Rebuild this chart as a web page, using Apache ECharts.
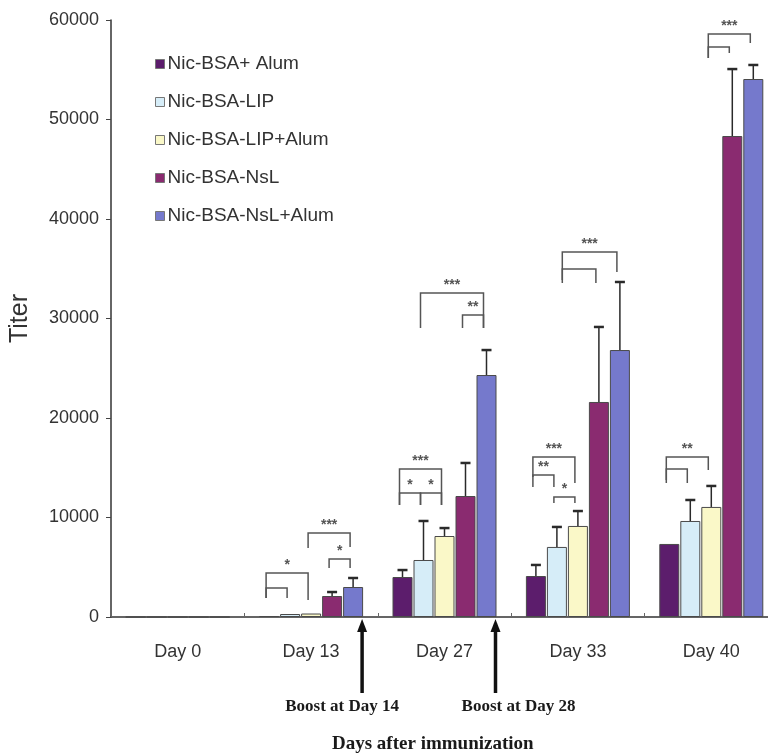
<!DOCTYPE html>
<html>
<head>
<meta charset="utf-8">
<script src="https://cdn.jsdelivr.net/npm/echarts@6/dist/echarts.min.js"></script>
<style>html,body{margin:0;padding:0;background:#fff;overflow:hidden;}#chart{width:778px;height:756px;}</style>
</head>
<body>
<div id="chart"></div>
<script>
// ---- data ----
const categories = ['Day 0', 'Day 13', 'Day 27', 'Day 33', 'Day 40'];
const seriesNames = ['Nic-BSA+ Alum', 'Nic-BSA-LIP', 'Nic-BSA-LIP+Alum', 'Nic-BSA-NsL', 'Nic-BSA-NsL+Alum'];
const nicBsaAlum      = [0, 100, 4020, 4120, 7340];
const nicBsaLip       = [0, 300, 5730, 7040, 9650];
const nicBsaLipAlum   = [0, 350, 8140, 9150, 11060];
const nicBsaNsl       = [0, 2110, 12160, 21610, 48340];
const nicBsaNslAlum   = [0, 3015, 24320, 26830, 54070];
// upper end of each error bar (null = none visible)
const nicBsaAlumUpper    = [null, null, 4720, 5230, null];
const nicBsaLipUpper     = [null, null, 9650, 9050, 11760];
const nicBsaLipAlumUpper = [null, null, 8940, 10650, 13170];
const nicBsaNslUpper     = [null, 2510, 15480, 29150, 55070];
const nicBsaNslAlumUpper = [null, 3920, 26830, 33670, 55480];
const yTicks = [0, 10000, 20000, 30000, 40000, 50000, 60000];
// significance brackets: [category, fromBar, toBar, topValue, leftLegEnd, rightLegEnd, label]
const brackets = [
  [1, 0, 2, 4420, 1900, 1710, '*'],
  [1, 0, 1, 2910, 1900, 1900, ''],
  [1, 2, 4, 8440, 6930, 7030, '***'],
  [1, 3, 4, 5830, 4920, 4920, '*'],
  [2, 0, 2, 14870, 11250, 11250, '***'],
  [2, 0, 1, 12460, 11250, 11250, '*'],
  [2, 1, 2, 12460, 11250, 11250, '*'],
  [2, 1, 4, 32560, 29040, 29040, '***'],
  [2, 3, 4, 30350, 29040, 29040, '**'],
  [3, 1.4, 4, 36680, 33870, 34670, '***'],
  [3, 1.4, 3, 34970, 33570, 33570, ''],
  [3, 0, 2, 16080, 14070, 13470, '***'],
  [3, 0, 1, 14270, 13070, 13070, '**'],
  [3, 1, 2, 12060, 11460, 11460, '*'],
  [4, 2, 4, 58590, 56180, 57690, '***'],
  [4, 2, 3, 57290, 56180, 56680, ''],
  [4, 0, 2, 16080, 13770, 14770, '**'],
  [4, 0, 1, 14870, 13470, 13470, '']
];
const boostCategories = [1, 2];
const boostLabels = ['Boost at Day 14', 'Boost at Day 28'];
const xAxisTitle = 'Days after immunization';
const yAxisTitle = 'Titer';

// ---- build ----
const values = [nicBsaAlum, nicBsaLip, nicBsaLipAlum, nicBsaNsl, nicBsaNslAlum];
const uppers = [nicBsaAlumUpper, nicBsaLipUpper, nicBsaLipAlumUpper, nicBsaNslUpper, nicBsaNslAlumUpper];
const colors = ['#5c1d6c', '#d6edf8', '#faf8c8', '#8a2b70', '#7579cc'];
const BAR_W = 20, BAR_STEP = 21;

function barX(api, cat, bar) {
  return api.coord([cat, 0])[0] + (bar - 2) * BAR_STEP;
}

const errData = [];
values.forEach((arr, s) => arr.forEach((v, c) => {
  if (uppers[s][c] != null) errData.push([c, s, v, uppers[s][c]]);
}));

const barSeries = seriesNames.map((n, i) => ({
  name: n,
  type: 'bar',
  data: values[i],
  barWidth: BAR_W,
  barGap: '5%',
  itemStyle: { color: colors[i], borderColor: '#4a4a4a', borderWidth: 1 },
  emphasis: { disabled: true },
  z: 2
}));

const errorSeries = {
  type: 'custom',
  data: errData,
  encode: { x: 0, y: 3 },
  clip: false,
  z: 3,
  silent: true,
  renderItem: function (params, api) {
    const c = api.value(0), s = api.value(1), v = api.value(2), u = api.value(3);
    const x = barX(api, c, s);
    const y1 = api.coord([c, v])[1];
    const y2 = api.coord([c, u])[1];
    return {
      type: 'group',
      children: [
        { type: 'line', shape: { x1: x, y1: y1, x2: x, y2: y2 }, style: { stroke: '#2a2a2a', lineWidth: 1.5 } },
        { type: 'line', shape: { x1: x - 5, y1: y2, x2: x + 5, y2: y2 }, style: { stroke: '#2a2a2a', lineWidth: 2.5 } }
      ]
    };
  }
};

const bracketSeries = {
  type: 'custom',
  data: brackets.map(b => [b[0], b[3]]),
  encode: { x: 0, y: 1 },
  clip: false,
  z: 3,
  silent: true,
  renderItem: function (params, api) {
    const b = brackets[params.dataIndex];
    const xl = barX(api, b[0], b[1]) - 3;
    const xr = barX(api, b[0], b[2]) - 3;
    const yt = api.coord([b[0], b[3]])[1];
    const yl = api.coord([b[0], b[4]])[1];
    const yr = api.coord([b[0], b[5]])[1];
    const children = [{
      type: 'polyline',
      shape: { points: [[xl, yl], [xl, yt], [xr, yt], [xr, yr]] },
      style: { stroke: '#555', lineWidth: 1.5, fill: null }
    }];
    if (b[6]) {
      children.push({
        type: 'text',
        style: {
          text: b[6], x: (xl + xr) / 2, y: yt - 1,
          align: 'center', verticalAlign: 'bottom',
          font: 'bold 14px "Liberation Sans"', fill: '#555'
        }
      });
    }
    return { type: 'group', children: children };
  }
};

const boostSeries = {
  type: 'custom',
  data: boostCategories.map(c => [c, 0]),
  encode: { x: 0, y: 1 },
  clip: false,
  z: 4,
  silent: true,
  renderItem: function (params, api) {
    const c = boostCategories[params.dataIndex];
    const x = barX(api, c, 4) + BAR_W / 2 - 1;
    const y0 = api.coord([c, 0])[1];
    const textDx = params.dataIndex === 0 ? -20 : 23;
    return {
      type: 'group',
      children: [
        { type: 'line', shape: { x1: x, y1: y0 + 76, x2: x, y2: y0 + 12 }, style: { stroke: '#111', lineWidth: 3.5 } },
        { type: 'polygon', shape: { points: [[x - 5, y0 + 15], [x + 5, y0 + 15], [x, y0 + 2]] }, style: { fill: '#111' } },
        {
          type: 'text',
          style: {
            text: boostLabels[params.dataIndex], x: x + textDx, y: y0 + 90,
            align: 'center', verticalAlign: 'middle',
            font: 'bold 17px "Liberation Serif"', fill: '#1a1a1a'
          }
        }
      ]
    };
  }
};

const chart = echarts.init(document.getElementById('chart'), null, { renderer: 'canvas' });
chart.setOption({
  backgroundColor: '#ffffff',
  animation: false,
  color: colors,
  grid: { left: 111, right: 0, top: 20, bottom: 139, containLabel: false },
  legend: {
    data: seriesNames,
    orient: 'vertical',
    left: 150,
    top: 49,
    itemWidth: 9,
    itemHeight: 9,
    itemGap: 18,
    icon: 'rect',
    selectedMode: false,
    itemStyle: { borderColor: '#777', borderWidth: 1 },
    textStyle: { fontFamily: 'Liberation Sans', fontSize: 19, color: '#333', lineHeight: 20, padding: [0, 0, 0, -2] }
  },
  graphic: [{
    type: 'text',
    left: 332, top: 735,
    style: { text: xAxisTitle, font: 'bold 19px "Liberation Serif"', fill: '#1a1a1a' }
  }],
  xAxis: {
    type: 'category',
    data: categories,
    axisLine: { lineStyle: { color: '#333', width: 1.5 } },
    axisTick: { show: true, inside: true, length: 4, lineStyle: { color: '#666' } },
    axisLabel: { fontFamily: 'Liberation Sans', fontSize: 18, color: '#333', margin: 26 },
    splitLine: { show: false }
  },
  yAxis: {
    type: 'value',
    min: 0,
    max: 60000,
    interval: 10000,
    name: yAxisTitle,
    nameLocation: 'middle',
    nameRotate: 90,
    nameGap: 78,
    nameTextStyle: { fontFamily: 'Liberation Sans', fontSize: 25, color: '#333' },
    axisLine: { show: true, lineStyle: { color: '#333', width: 1.5 } },
    axisTick: { show: true, length: 5, lineStyle: { color: '#444' } },
    axisLabel: {
      fontFamily: 'Liberation Sans', fontSize: 18, color: '#333', margin: 12,
      formatter: v => (yTicks.indexOf(v) >= 0 ? String(v) : '')
    },
    splitLine: { show: false }
  },
  series: barSeries.concat([errorSeries, bracketSeries, boostSeries])
});
</script>
</body>
</html>
